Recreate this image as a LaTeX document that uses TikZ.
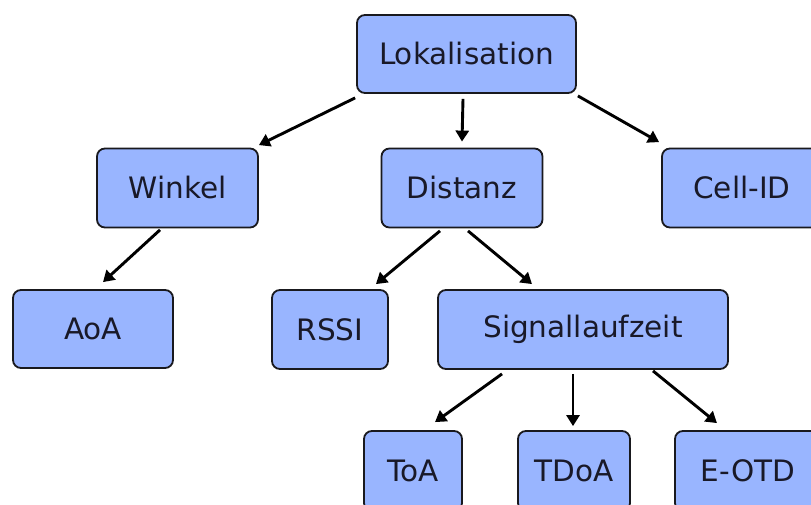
\documentclass[tikz,border=0pt]{standalone}
\usepackage{fontspec}
\setmainfont{DejaVu Sans}
\usetikzlibrary{arrows.meta}
\definecolor{boxfill}{RGB}{153,181,255}
\definecolor{boxline}{RGB}{25,25,30}
\definecolor{txt}{RGB}{25,25,40}
\tikzset{
  box/.style={draw=boxline, line width=1.8pt, fill=boxfill, rounded corners=8pt,
    text=txt, font=\fontsize{29.5}{35}\selectfont, inner sep=0pt, anchor=center},
  arr/.style={draw=black, line width=2.9pt, -{Triangle[length=11pt,width=13pt]}}
}
\begin{document}
\begin{tikzpicture}[x=1pt,y=1pt]
\useasboundingbox (0,0) rectangle (811,-505);
\fill[white] (0,0) rectangle (811,-505);
\clip (0,0) rectangle (811,-505);
\node[box, minimum width=219pt, minimum height=78pt] (lok) at (466.5,-54) {Lokalisation};
\node[box, minimum width=161pt, minimum height=79pt] (winkel) at (177.5,-188) {Winkel};
\node[box, minimum width=161pt, minimum height=79pt] (distanz) at (462,-188) {Distanz};
\node[box, minimum width=160pt, minimum height=79pt] (cell) at (742,-188) {Cell-ID};
\node[box, minimum width=160pt, minimum height=78pt] (aoa) at (93,-329) {AoA};
\node[box, minimum width=116pt, minimum height=79pt] (rssi) at (330,-329.5) {RSSI};
\node[box, minimum width=290pt, minimum height=79pt] (signal) at (583,-329.5) {Signallaufzeit};
\node[box, minimum width=98pt, minimum height=80pt] (toa) at (413,-471) {ToA};
\node[box, minimum width=112pt, minimum height=80pt] (tdoa) at (574,-471) {TDoA};
\node[box, minimum width=146pt, minimum height=80pt] (eotd) at (748,-471) {E-OTD};

\draw[arr] ([shift={(-1,-4)}]lok.south west) -- ([shift={(0,2.5)}]winkel.north east);
\draw[arr] ([shift={(-3.5,-5)}]lok.south) -- ([shift={(0,6)}]distanz.north);
\draw[arr] ([shift={(1,-2)}]lok.south east) -- ([shift={(-2,5.5)}]cell.north west);
\draw[arr] ([shift={(-17.5,-1.5)}]winkel.south) -- ([shift={(10,7)}]aoa.north);
\draw[arr] ([shift={(-22,-2.5)}]distanz.south) -- ([shift={(-13,5)}]rssi.north east);
\draw[arr] ([shift={(6,-2.5)}]distanz.south) -- ([shift={(-51,5)}]signal.north);
\draw[arr] ([shift={(-81,-4)}]signal.south) -- ([shift={(22,8)}]toa.north);
\draw[arr] ([shift={(-10,-4)}]signal.south) -- ([shift={(-1,4)}]tdoa.north);
\draw[arr] ([shift={(70,-1)}]signal.south) -- ([shift={(-31,7)}]eotd.north);
\end{tikzpicture}
\end{document}
